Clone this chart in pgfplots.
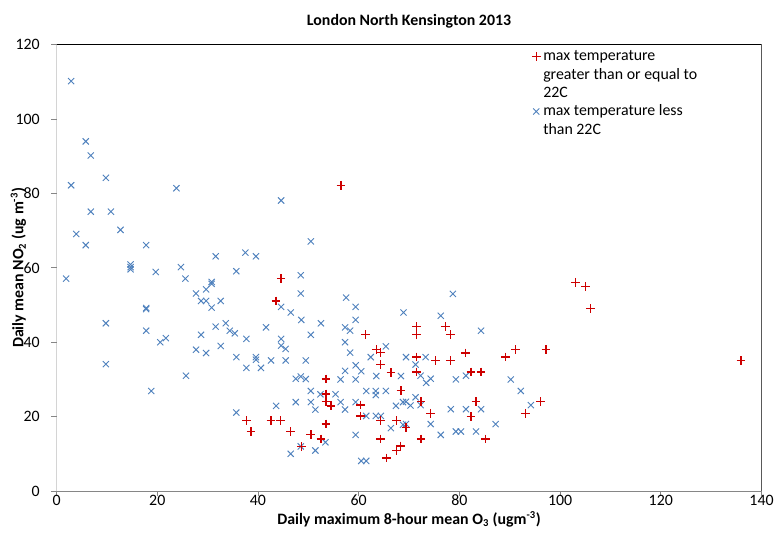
\documentclass[border=0pt]{standalone}
\usepackage{pgfplots}
\pgfplotsset{compat=1.18}
\usepackage{fontspec}
\setmainfont{Carlito}

\definecolor{hotred}{RGB}{205,0,0}
\definecolor{coolblue}{RGB}{79,129,189}
\definecolor{axisgray}{RGB}{134,134,134}

\pgfplotsset{
  hotmarks/.style={only marks, mark=+, mark size=3.3pt, color=hotred, line width=1pt},
  coolmarks/.style={only marks, mark=x, mark size=3.3pt, color=coolblue, line width=0.7pt},
}

\begin{document}
\begin{tikzpicture}
\begin{axis}[
  name=ax,
  scale only axis,
  width=533pt, height=337.5pt,
  xmin=0, xmax=140, ymin=0, ymax=120,
  xtick={0,20,...,140}, ytick={0,20,...,120},
  /pgf/number format/assume math mode=true,
  tick label style={font=\fontsize{12}{14}\selectfont},
  xticklabel style={yshift=4.5pt},
  yticklabel style={xshift=-5.25pt},
  xtick pos=left, ytick pos=left,
  tick align=outside,
  major tick length=4pt,
  tick style={axisgray, line width=0.6pt},
  axis line style={draw=none},
  title={\bfseries London North Kensington 2013},
  title style={font=\fontsize{12}{14}\selectfont, at={(axis description cs:0.5,1)}, anchor=base, yshift=8.5pt},
  xlabel={\bfseries Daily maximum 8-hour mean O\textsubscript{3} (ugm\textsuperscript{-3})},
  ylabel={\bfseries Daily mean NO\textsubscript{2} (ug m\textsuperscript{-3})},
  label style={font=\fontsize{12}{14}\selectfont},
  xlabel style={at={(axis description cs:0.5,0)}, anchor=base, yshift=-25pt},
  ylabel style={at={(axis description cs:-0.054,0.5)}, anchor=center},
  legend style={at={(0.672,0.997)}, anchor=north west, draw=none, fill=none,
    font=\fontsize{12}{14}\selectfont, row sep=0.4pt, inner sep=1pt},
  legend cell align=left,
  legend image code/.code={\draw[mark repeat=2,mark phase=2] plot coordinates {(0cm,0cm) (0.08cm,0cm) (0.16cm,0cm)};},
]
% legend entries first (images only), plots follow with forget plot
\addlegendimage{hotmarks}
\addlegendentry{max temperature}
\addlegendimage{empty legend}
\addlegendentry{greater than or equal to}
\addlegendimage{empty legend}
\addlegendentry{22C\rule[-8.5pt]{0pt}{8.5pt}}
\addlegendimage{coolmarks}
\addlegendentry{max temperature less}
\addlegendimage{empty legend}
\addlegendentry{than 22C}

% max temperature less than 22C
\addplot[coolmarks, forget plot] coordinates {
(2.9,110.2) (5.8,94) (6.8,90.2) (9.8,84.2) (2.9,82.2) (23.8,81.4)
(44.6,78.1) (6.8,75.1) (10.8,75.1) (12.7,70.2) (3.9,69.1) (5.8,66.1)
(17.8,66.1) (50.5,67.1) (37.5,64.1) (39.6,63.1) (31.6,63.1) (14.7,60.9)
(14.7,60.2) (14.7,59.6) (19.7,58.9) (24.7,60.2) (35.7,59.1) (48.5,58)
(25.6,57.1) (1.9,57.1) (30.8,56.2) (30.8,55.7) (29.7,54.2) (27.7,53.1)
(28.7,51.1) (29.7,51.1) (32.6,51.1) (30.8,49.3) (17.8,49.2) (17.8,48.9)
(48.5,53.1) (57.5,52) (59.4,49.5) (44.6,49.5) (46.5,48) (48.6,46)
(52.5,45.1) (59.4,46) (57.3,44) (58.3,43.1) (9.8,45.1) (17.8,43.1)
(20.6,40) (21.7,41.1) (28.7,42) (31.6,44.2) (33.6,45.1) (34.4,43.1)
(35.4,42.4) (41.6,44) (37.7,40.9) (50.5,42) (44.6,40.9) (44.6,39.1)
(45.5,38.2) (57.3,40) (58.3,37.2) (65.4,38.9) (62.4,36) (27.7,38)
(29.7,37.1) (32.6,39) (35.7,36) (39.6,36) (39.6,35.3) (42.6,35.1)
(45.5,35.1) (49.5,35.1) (37.7,33.1) (40.6,33.1) (59.4,33.8) (60.5,32.2)
(57.3,32.3) (47.5,30.2) (48.5,30.8) (49.5,30.1) (56.4,30) (59.4,30)
(63.5,30.9) (68.4,30.9) (9.8,34.1) (25.7,31) (18.8,26.9) (50.5,26.9)
(52.4,26) (55.4,26) (61.5,26.9) (63.4,26.9) (63.4,25.8) (65.4,26.9)
(47.5,23.9) (50.5,23.9) (51.4,21.9) (56.4,23.9) (57.3,21.9) (59.4,23.9)
(67.4,22.9) (68.8,23.9) (43.6,22.9) (35.7,21.1) (61.5,20.2) (63.4,20.2)
(64.4,20.2) (66.4,16.9) (68.8,17.8) (59.4,15.1) (48.5,12) (46.5,10)
(51.4,10.9) (53.4,13.1) (60.5,8.1) (61.5,8.1) (68.9,48) (76.3,47.1)
(84.3,43.1) (69.4,36) (73.3,36) (71.3,34) (72.3,31) (73.4,29.1)
(74.3,30.2) (79.3,30) (81.3,31) (90.2,30) (92.2,26.9) (94.2,23.1)
(69.4,24) (71.3,25.2) (70.3,23) (72.3,23.1) (78.3,22) (81.3,22)
(84.3,22) (87.2,18) (69.4,18) (74.3,18) (76.3,15.1) (79.3,16)
(80.3,16) (83.3,16) (78.7,53)
};
% max temperature greater than or equal to 22C
\addplot[hotmarks, forget plot] coordinates {
(56.5,82.2) (44.6,57.1) (43.6,51.1) (37.7,18.9) (38.6,16) (42.6,18.9)
(44.5,18.9) (46.5,16) (48.6,12) (50.5,15.2) (52.5,14) (53.5,30.1)
(53.5,26.1) (53.5,24) (54.5,22.9) (53.5,18) (60.4,23.1) (60.4,20.2)
(61.4,42) (63.5,38) (64.4,37.2) (64.4,34) (66.4,31.9) (68.4,27)
(64.4,18.9) (67.5,18.9) (69.4,17) (64.4,14) (68.3,12.1) (67.5,10.9)
(65.5,8.9) (71.5,44.2) (71.5,42) (77.2,44.2) (78.2,42) (71.5,36)
(75.3,35.1) (78.2,35.1) (81.2,37.1) (71.5,32) (82.3,32) (84.3,32)
(89.2,36) (91.2,38) (97.2,38) (72.4,24) (83.3,24) (96.1,24)
(93.1,20.9) (74.3,20.9) (82.3,20) (72.4,14) (85.2,14)
(103.1,56.1) (105.1,55) (106.1,49.1) (135.9,35)
};
% frame: grey axes on left and bottom, black on top and right
\draw[black, line width=0.9pt] (rel axis cs:0,1) -- (rel axis cs:1,1) -- (rel axis cs:1,0);
\draw[axisgray, line width=0.8pt] (rel axis cs:0,1) -- (rel axis cs:0,0) -- (rel axis cs:1,0);
\end{axis}
% white margin as in the original chart
\path (ax.south west) ++(-42.75pt,-32.25pt);
\path (ax.north east) ++(6pt,33.75pt);
\end{tikzpicture}
\end{document}
